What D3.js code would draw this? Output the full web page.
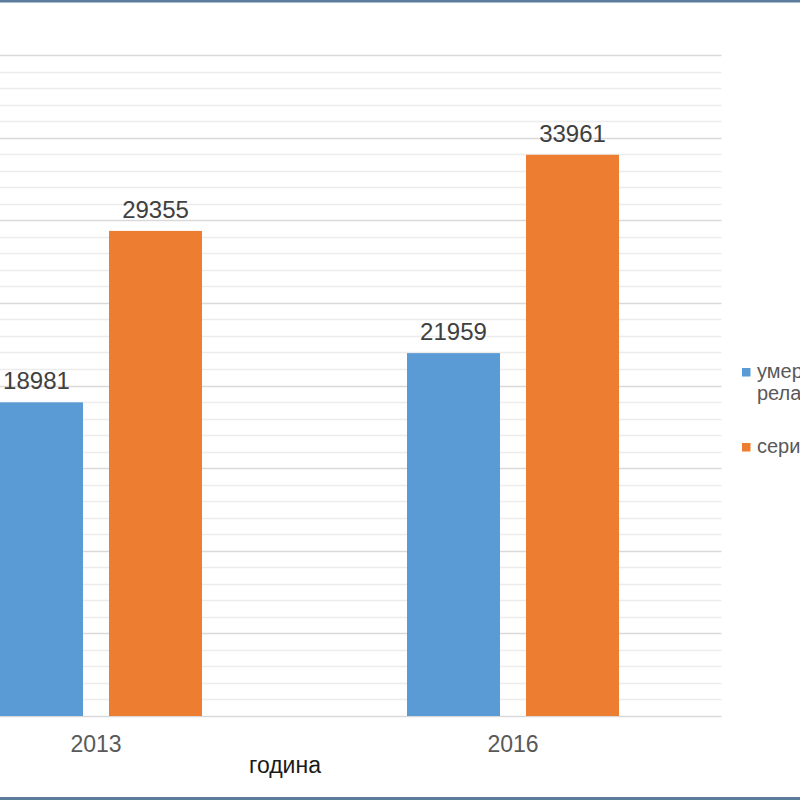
<!DOCTYPE html>
<html>
<head>
<meta charset="utf-8">
<script src="https://cdn.jsdelivr.net/npm/d3@7"></script>
<style>
  html, body { margin: 0; padding: 0; background: #fff; }
  svg { display: block; font-family: "Liberation Sans", Arial, sans-serif; }
</style>
</head>
<body>
<svg id="chart" width="800" height="800"></svg>
<script>
// ---- data ----
const years = ["2013", "2016"];
const seriesNames = ["умерени релации", "сериозни"];
const seriesLines = [["умерени", "релации"], ["сериозни"]];
const seriesColors = ["#5b9bd5", "#ed7d31"];
const seriesA = [18981, 21959];
const seriesB = [29355, 33961];
const xAxisTitle = "година";
const yMax = 40000;
const majorStep = 5000;
const minorStep = 1000;

const svg = d3.select("#chart");

// plot area
const plot = { left: -112.5, right: 721.5, top: 55, bottom: 716 };

const x0 = d3.scaleBand().domain(years).range([plot.left, plot.right]).paddingInner(0).paddingOuter(0);
const groupW = 212;
const x1 = d3.scaleBand().domain(seriesNames)
  .range([(x0.bandwidth() - groupW) / 2, (x0.bandwidth() + groupW) / 2])
  .paddingInner(0.2185).paddingOuter(0);
const y = d3.scaleLinear().domain([0, yMax]).range([plot.bottom, plot.top]);

// minor gridlines
const minorTicks = d3.range(0, yMax + 1, minorStep).filter(v => v % majorStep !== 0);
svg.append("g").selectAll("line").data(minorTicks).join("line")
  .attr("x1", 0).attr("x2", plot.right)
  .attr("y1", d => Math.round(y(d)) + 0.5).attr("y2", d => Math.round(y(d)) + 0.5)
  .attr("stroke", "#ececec").attr("stroke-width", 1.5);

// major gridlines
const majorTicks = d3.range(0, yMax + 1, majorStep);
svg.append("g").selectAll("line").data(majorTicks).join("line")
  .attr("x1", 0).attr("x2", plot.right)
  .attr("y1", d => Math.round(y(d)) + 0.5).attr("y2", d => Math.round(y(d)) + 0.5)
  .attr("stroke", "#d9d9d9").attr("stroke-width", 1.5);

// bars
const rows = years.map((yr, i) => ({ year: yr, values: [seriesA[i], seriesB[i]] }));
const groups = svg.append("g").selectAll("g").data(rows).join("g")
  .attr("transform", d => `translate(${x0(d.year)},0)`);

groups.selectAll("rect").data(d => d.values.map((v, j) => ({ v, j })))
  .join("rect")
  .attr("x", d => x1(seriesNames[d.j]))
  .attr("width", x1.bandwidth())
  .attr("y", d => y(d.v))
  .attr("height", d => y(0) - y(d.v))
  .attr("fill", d => seriesColors[d.j]);

groups.selectAll("text").data(d => d.values.map((v, j) => ({ v, j })))
  .join("text")
  .attr("x", d => x1(seriesNames[d.j]) + x1.bandwidth() / 2)
  .attr("y", d => y(d.v) - 13)
  .attr("text-anchor", "middle")
  .attr("font-size", 24)
  .attr("fill", "#404040")
  .text(d => d.v);

// x axis labels
svg.append("g").selectAll("text").data(years).join("text")
  .attr("x", d => x0(d) + x0.bandwidth() / 2)
  .attr("y", 752)
  .attr("text-anchor", "middle")
  .attr("font-size", 23)
  .attr("fill", "#595959")
  .text(d => d);

// axis title
svg.append("text")
  .attr("x", 285).attr("y", 773)
  .attr("text-anchor", "middle")
  .attr("font-size", 23)
  .attr("fill", "#1a1a1a")
  .text(xAxisTitle);

// legend
const legendY = [368, 443];
const leg = svg.append("g");
seriesNames.forEach((name, i) => {
  leg.append("rect").attr("x", 742).attr("y", legendY[i]).attr("width", 8.5).attr("height", 8.5)
    .attr("fill", seriesColors[i]);
  const t = leg.append("text").attr("x", 757).attr("y", legendY[i] + 10)
    .attr("font-size", 20).attr("fill", "#595959");
  seriesLines[i].forEach((ln, k) => {
    t.append("tspan").attr("x", 757).attr("dy", k === 0 ? 0 : 22).text(ln);
  });
});

// frame lines
svg.append("rect").attr("x", 0).attr("y", 0).attr("width", 800).attr("height", 2.5).attr("fill", "#5d7b9a");
svg.append("rect").attr("x", 0).attr("y", 797).attr("width", 800).attr("height", 3).attr("fill", "#5d7b9a");
</script>
</body>
</html>
